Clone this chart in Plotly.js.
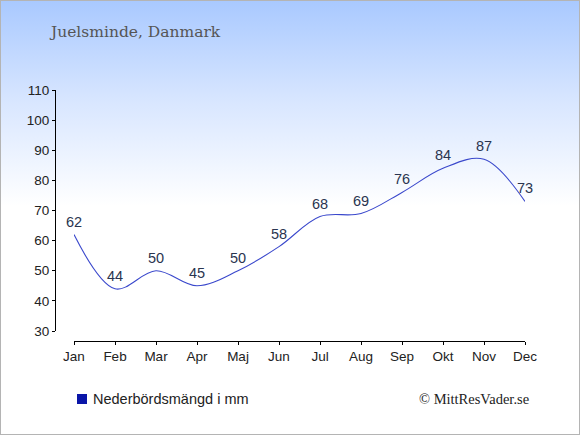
<!DOCTYPE html>
<html>
<head>
<meta charset="utf-8">
<script src="https://cdn.plot.ly/plotly-3.0.1.min.js"></script>
<style>
html,body{margin:0;padding:0;}
#wrap{width:580px;height:435px;box-sizing:border-box;border:1px solid #b4b4b4;
background:linear-gradient(to bottom,#a9c9ff 0px,#d8e6ff 100px,#ffffff 205px,#ffffff 435px);position:relative;overflow:hidden;}
#chart{position:absolute;left:-1px;top:-1px;width:580px;height:435px;}
</style>
</head>
<body>
<div id="wrap"><div id="chart"></div></div>
<script>
const months = ["Jan","Feb","Mar","Apr","Maj","Jun","Jul","Aug","Sep","Okt","Nov","Dec"];
const precipitation = [62,44,50,45,50,58,68,69,76,84,87,73];
const yTicks = [30,40,50,60,70,80,90,100,110];
const titleText = "Juelsminde, Danmark";
const legendText = "Nederbördsmängd i mm";
const creditText = "© MittResVader.se";

const W = 580, H = 435;
const mL = 55, mR = 55, mT = 90, mB = 94;
const plotW = W - mL - mR, plotH = H - mT - mB;
const sans = "Liberation Sans, Arial, sans-serif";

const trace = {
  x: months,
  y: precipitation,
  type: "scatter",
  mode: "lines",
  line: {color: "#3a48cc", width: 1.1, shape: "spline", smoothing: 1},
  hoverinfo: "skip",
  showlegend: false
};

const valueLabels = months.map((m, i) => ({
  x: m, y: precipitation[i], xref: "x", yref: "y",
  text: String(precipitation[i]),
  showarrow: false, xanchor: "center", yanchor: "middle", yshift: 13,
  font: {family: sans, size: 14.5, color: "#2a3550"}
}));

const layout = {
  width: W, height: H,
  margin: {l: mL, r: mR, t: mT, b: mB, pad: 0},
  paper_bgcolor: "rgba(0,0,0,0)",
  plot_bgcolor: "rgba(0,0,0,0)",
  showlegend: false,
  font: {family: sans, size: 14, color: "#222"},
  xaxis: {
    type: "category",
    domain: [19/plotW, 1],
    range: [0, months.length - 1],
    anchor: "free", position: 0,
    showgrid: false, zeroline: false,
    showline: true, linecolor: "#000", linewidth: 1,
    ticks: "outside", ticklen: 3, tickcolor: "#000", tickwidth: 1,
    ticklabelstandoff: 0,
    tickfont: {family: sans, size: 13.5, color: "#222"},
    fixedrange: true
  },
  yaxis: {
    domain: [10/plotH, 1],
    range: [30, 110],
    tickvals: yTicks,
    anchor: "free", position: 0,
    showgrid: false, zeroline: false,
    showline: true, linecolor: "#000", linewidth: 1,
    ticks: "outside", ticklen: 3, tickcolor: "#000", tickwidth: 1,
    tickfont: {family: sans, size: 13.5, color: "#222"},
    fixedrange: true
  },
  title: {
    text: titleText,
    x: 51/W, xref: "container", xanchor: "left",
    y: 1 - 32/H, yref: "container", yanchor: "middle",
    font: {family: "DejaVu Serif, Georgia, serif", size: 15.5, color: "#555"}
  },
  shapes: [{
    type: "rect", xref: "paper", yref: "paper",
    x0: (77 - mL)/plotW, x1: (87 - mL)/plotW,
    y0: -(404 - (H - mB))/plotH, y1: -(394 - (H - mB))/plotH,
    fillcolor: "#0a16a8", line: {width: 0}
  }],
  annotations: valueLabels.concat([
    {
      text: legendText, xref: "paper", yref: "paper",
      x: (91 - mL)/plotW, xanchor: "left",
      y: -(399 - (H - mB))/plotH, yanchor: "middle",
      showarrow: false,
      font: {family: sans, size: 14.5, color: "#222"}
    },
    {
      text: creditText, xref: "paper", yref: "paper",
      x: (531 - mL)/plotW, xanchor: "right",
      y: -(399 - (H - mB))/plotH, yanchor: "middle",
      showarrow: false,
      font: {family: "Liberation Serif, Times New Roman, serif", size: 14.5, color: "#222"}
    }
  ])
};

Plotly.newPlot("chart", [trace], layout, {displayModeBar: false, staticPlot: true});
</script>
</body>
</html>
